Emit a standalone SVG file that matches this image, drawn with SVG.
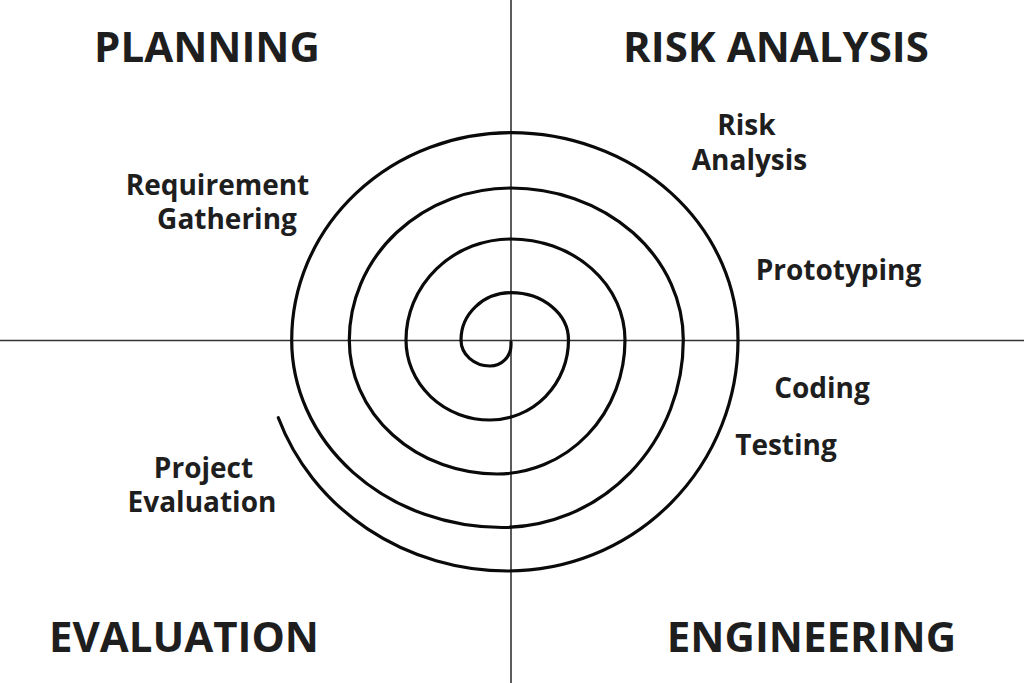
<svg xmlns="http://www.w3.org/2000/svg" width="1024" height="683" viewBox="0 0 1024 683">
<style>
.h{font-family:"Open Sans","Noto Sans","DejaVu Sans",sans-serif;font-weight:700;font-size:42px;fill:#1e1e1e;text-anchor:middle}
.l{font-family:"Open Sans","Noto Sans","DejaVu Sans",sans-serif;font-weight:700;font-size:28px;fill:#1e1e1e;text-anchor:middle}
.axis{stroke:#333;stroke-width:1.6;fill:none}
.sp{stroke:#0a0a0a;stroke-width:3.2;fill:none;stroke-linecap:round}
</style>
<rect width="1024" height="683" fill="#fff"/>
<g id="connectors">
<line class="axis" x1="511" y1="0" x2="511" y2="683"/>
<line class="axis" x1="0" y1="340.5" x2="1024" y2="340.5"/>
<path id="spiral" class="sp" d="M511,342 L511,345 A21 21 0 0 1 490,366 A29 26 0 0 1 461,340 A50 47.3 0 0 1 511,292.7 A57.5 47.3 0 0 1 568.5,340 A78.5 80 0 0 1 490,420 A84 80 0 0 1 406,340 A105 101 0 0 1 511,239 A114 101 0 0 1 625,340 A128 134 0 0 1 497,474 A147.7 134 0 0 1 349.3,340 A161.7 152 0 0 1 511,188 A172.3 152 0 0 1 683.3,340 A181.3 187.5 0 0 1 502,527.5 A210.3 187.5 0 0 1 291.7,340 A219.3 207.3 0 0 1 511,132.7 A227 207.3 0 0 1 738,340 A230 231 0 0 1 508,571 A244 231 0 0 1 278.3,417.7"/>
</g>
<g id="planning"><text class="h" x="207" y="62">PLANNING</text></g>
<g id="risk-analysis"><text class="h" x="776" y="62">RISK ANALYSIS</text></g>
<g id="evaluation"><text class="h" x="184" y="652">EVALUATION</text></g>
<g id="engineering"><text class="h" x="811.5" y="652">ENGINEERING</text></g>
<g id="requirement-gathering"><text class="l" x="217.5" y="195">Requirement<tspan x="227" dy="34">Gathering</tspan></text></g>
<g id="risk-analysis-step"><text class="l" x="746.5" y="135">Risk<tspan x="749.5" dy="35">Analysis</tspan></text></g>
<g id="prototyping"><text class="l" x="838.5" y="280">Prototyping</text></g>
<g id="coding"><text class="l" x="822" y="398">Coding</text></g>
<g id="testing"><text class="l" x="786" y="455">Testing</text></g>
<g id="project-evaluation"><text class="l" x="203.5" y="478">Project<tspan x="202" dy="34">Evaluation</tspan></text></g>
</svg>
